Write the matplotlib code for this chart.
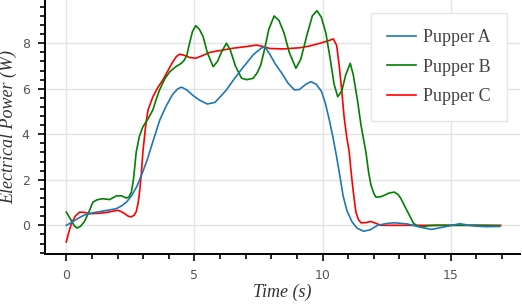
import matplotlib.pyplot as plt
from matplotlib.ticker import AutoMinorLocator, MultipleLocator

# Pupper A (blue)
t_a = [0, 0.2, 0.45, 0.7, 0.95, 1.3, 1.6, 1.95, 2.15, 2.35, 2.55, 2.75, 2.95, 3.15,
       3.4, 3.65, 3.9, 4.15, 4.35, 4.5, 4.7, 4.95, 5.2, 5.5, 5.8, 6.05, 6.25, 6.5,
       6.8, 7.05, 7.3, 7.6, 7.75, 7.95, 8.15, 8.4, 8.65, 8.9, 9.1, 9.35, 9.55, 9.75,
       9.95, 10.1, 10.25, 10.4, 10.55, 10.7, 10.8, 10.95, 11.15, 11.35, 11.6, 11.85,
       12.15, 12.5, 12.8, 13.3, 13.85, 14.25, 14.75, 15.35, 15.9, 16.4, 16.9]
p_a = [0, 0.12, 0.3, 0.45, 0.53, 0.6, 0.66, 0.73, 0.85, 1.02, 1.3, 1.7, 2.25, 2.85,
       3.75, 4.63, 5.25, 5.75, 6.0, 6.07, 5.95, 5.7, 5.5, 5.33, 5.4, 5.7, 5.95, 6.35,
       6.8, 7.15, 7.5, 7.78, 7.85, 7.5, 7.1, 6.7, 6.25, 5.95, 5.97, 6.2, 6.31, 6.2,
       5.9, 5.4, 4.7, 3.9, 3.0, 2.0, 1.3, 0.65, 0.15, -0.13, -0.26, -0.2,
       0.0, 0.08, 0.11, 0.06, -0.09, -0.18, -0.07, 0.07, -0.03, -0.06, -0.05]

# Pupper B (green)
t_b = [0, 0.15, 0.3, 0.42, 0.55, 0.7, 0.85, 1.04, 1.2, 1.43, 1.69, 1.95, 2.15, 2.34,
       2.45, 2.54, 2.62, 2.73, 2.85, 2.99, 3.2, 3.38, 3.5, 3.64, 3.85, 4.04, 4.25,
       4.49, 4.6, 4.7, 4.8, 4.92, 5.05, 5.2, 5.34, 5.5, 5.73, 5.9, 6.05, 6.25, 6.4,
       6.6, 6.84, 7.05, 7.29, 7.45, 7.59, 7.75, 7.9, 8.11, 8.3, 8.5, 8.7, 8.96, 9.15,
       9.41, 9.6, 9.78, 9.95, 10.13, 10.3, 10.45, 10.59, 10.75, 10.9, 11.08, 11.2,
       11.36, 11.5, 11.69, 11.8, 11.89, 12.0, 12.08, 12.25, 12.41, 12.6, 12.8, 12.95,
       13.06, 13.2, 13.39, 13.54, 13.7, 13.9, 14.1, 14.5, 15, 16, 16.93]
p_b = [0.58, 0.3, 0.0, -0.12, -0.05, 0.15, 0.5, 1.02, 1.12, 1.17, 1.13, 1.29, 1.3, 1.2,
       1.25, 1.46, 2.0, 3.22, 3.9, 4.33, 4.7, 5.07, 5.5, 5.95, 6.45, 6.75, 6.95,
       7.12, 7.25, 7.45, 7.95, 8.5, 8.77, 8.6, 8.29, 7.6, 6.97, 7.2, 7.6, 8.0, 7.7,
       7.0, 6.46, 6.4, 6.46, 6.7, 7.05, 7.8, 8.6, 9.2, 9.0, 8.44, 7.6, 6.9, 7.3,
       8.44, 9.2, 9.43, 9.15, 8.44, 7.3, 6.2, 5.65, 5.9, 6.6, 7.12, 6.6,
       5.51, 4.4, 3.22, 2.3, 1.76, 1.4, 1.24, 1.25, 1.32, 1.42, 1.46, 1.35,
       1.17, 0.85, 0.44, 0.1, -0.03, -0.08, -0.02, 0.0, 0.0, 0.0, -0.02]

# Pupper C (red)
t_c = [0, 0.1, 0.2, 0.35, 0.52, 0.7, 0.91, 1.3, 1.6, 1.82, 2.02, 2.15, 2.28, 2.42,
       2.54, 2.65, 2.73, 2.8, 2.86, 2.93, 2.99, 3.09, 3.19, 3.38, 3.57, 3.77, 3.97,
       4.16, 4.3, 4.43, 4.6, 4.8, 5.05, 5.3, 5.6, 6.0, 6.5, 7.0, 7.42, 7.7, 7.94,
       8.46, 9.11, 9.5, 9.9, 10.2, 10.42, 10.55, 10.65, 10.75, 10.84, 10.94, 11.04,
       11.1, 11.17, 11.24, 11.3, 11.4, 11.5, 11.7, 11.89, 12.05, 12.28, 12.7, 13.06,
       13.5, 14.0, 15.0, 16.0, 16.95]
p_c = [-0.73, -0.3, 0.07, 0.4, 0.58, 0.57, 0.51, 0.53, 0.57, 0.62, 0.66, 0.6, 0.51, 0.4,
       0.37, 0.45, 0.6, 0.95, 1.46, 2.3, 3.22, 4.3, 5.07, 5.65, 6.05, 6.39, 6.8,
       7.19, 7.42, 7.52, 7.47, 7.38, 7.34, 7.45, 7.6, 7.68, 7.78, 7.85, 7.92, 7.85, 7.77,
       7.75, 7.8, 7.88, 8.0, 8.1, 8.19, 7.9, 7.0, 5.9, 4.77, 3.9, 3.22,
       2.5, 1.76, 1.1, 0.58, 0.25, 0.11, 0.12, 0.17, 0.1, 0.0, 0.0, 0.0,
       0.0, 0.0, 0.0, 0.0, 0.0]

fig = plt.figure(figsize=(5.22, 3.04), dpi=100)
ax = fig.add_axes([0.0862, 0.1645, 0.9098, 0.8355])

lc, = ax.plot(t_c, p_c, color='red', lw=1.2, label='Pupper C')
lb, = ax.plot(t_b, p_b, color='green', lw=1.2, label='Pupper B')
la, = ax.plot(t_a, p_a, color='#1f77b4', lw=1.2, label='Pupper A')

ax.set_xlim(-0.83, 17.7)
ax.set_ylim(-1.26, 9.9)
ax.xaxis.set_major_locator(MultipleLocator(5))
ax.yaxis.set_major_locator(MultipleLocator(2))
ax.xaxis.set_minor_locator(AutoMinorLocator(5))
ax.yaxis.set_minor_locator(AutoMinorLocator(5))

ax.grid(True, which='major', color='#e3e3e3', lw=1.0)
ax.set_axisbelow(True)
for s in ['top', 'right']:
    ax.spines[s].set_visible(False)
for s in ['left', 'bottom']:
    ax.spines[s].set_linewidth(1.4)
ax.tick_params(which='major', direction='out', length=5, width=1.2, pad=6,
               labelsize=9, labelcolor='#555555')
ax.tick_params(which='minor', direction='out', length=3.5, width=1.2)

ax.set_xlabel('Time (s)', family='Liberation Serif', style='italic', fontsize=13,
              color='#333333', labelpad=1)
ax.set_ylabel('Electrical Power (W)', family='Liberation Serif', style='italic',
              fontsize=13, color='#333333', labelpad=3)

leg = ax.legend(handles=[la, lb, lc], loc='upper right', fancybox=False,
                framealpha=1, edgecolor='#e6e6e6', borderaxespad=0.7,
                prop={'family': 'Liberation Serif', 'size': 13},
                labelspacing=0.7, handlelength=1.6, handletextpad=0.4,
                borderpad=0.9)
for txt in leg.get_texts():
    txt.set_color('#444444')

fig.savefig('out.png', dpi=100)
